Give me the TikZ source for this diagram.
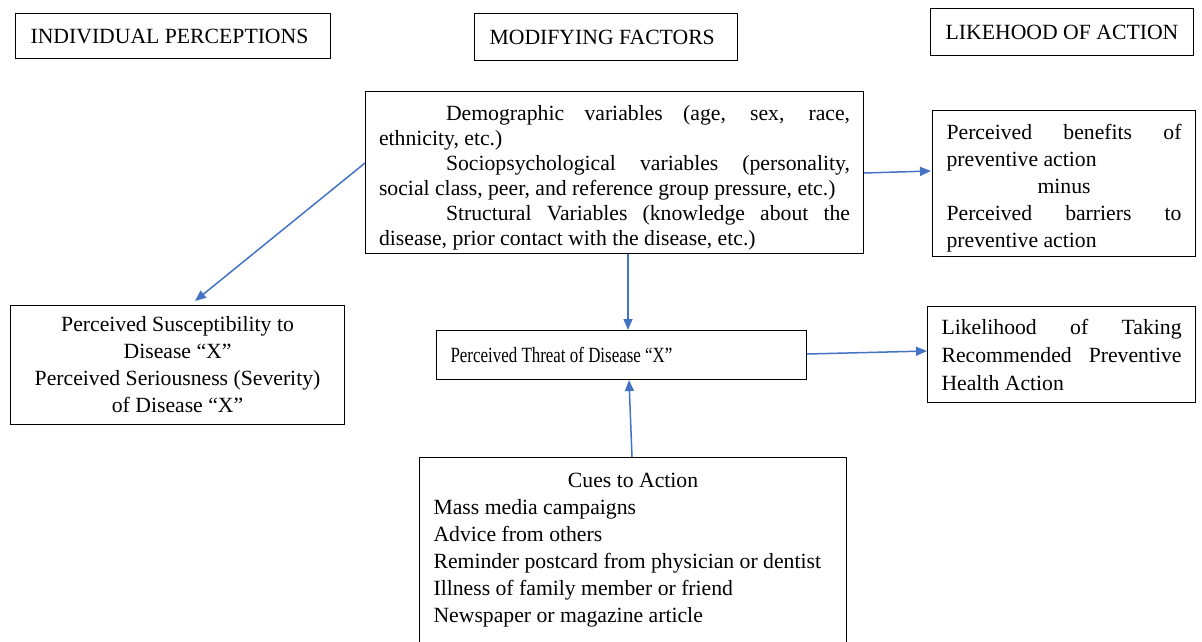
\documentclass[tikz,border=0pt]{standalone}
\usepackage{fontspec}
\usepackage{graphicx}
\setmainfont{Liberation Serif}
\usetikzlibrary{calc,arrows.meta}
\definecolor{arrowblue}{HTML}{4472C4}
\newcommand{\bodyfont}{\fontsize{21.7}{27}\selectfont}
\newcommand{\nohyph}{\hyphenpenalty=10000 \exhyphenpenalty=10000 \tolerance=10000 \emergencystretch=20pt}
\tikzset{
  box/.style={draw=black, line width=1.1pt, inner sep=0pt, anchor=north west, font=\bodyfont},
  conn/.style={draw=arrowblue, line width=1.5pt, -{Triangle[length=11pt,width=9pt]}},
}
\begin{document}
\begin{tikzpicture}[x=1pt,y=1pt]
\useasboundingbox (0,0) rectangle (1202,-641);
\clip (0,0) rectangle (1202,-641);

% column headers
\node[box, minimum width=315, minimum height=45] (ip) at (15,-13)
  {\parbox{285pt}{INDIVIDUAL PERCEPTIONS}};
\node[box, minimum width=263, minimum height=47] (mf) at (474,-13)
  {\parbox{233pt}{MODIFYING FACTORS}};
\node[box, minimum width=263, minimum height=47] (la) at (930,-8)
  {\parbox{237pt}{\centering LIKEHOOD OF ACTION}};

% modifying factors
\node[box, minimum width=498, minimum height=162] (demo) at (365,-91)
  {\parbox[c][134pt][t]{471pt}{\fontsize{21.7}{25}\selectfont\nohyph\parindent=67pt
   Demographic variables (age, sex, race,\linebreak ethnicity, etc.)\par
   Sociopsychological variables (personality,\linebreak social class, peer, and reference group pressure, etc.)\par
   Structural Variables (knowledge about the\linebreak disease, prior contact with the disease, etc.)\par}};

% perceived benefits
\node[box, minimum width=263, minimum height=146] (ben) at (932,-110)
  {\parbox[c][118pt][t]{235pt}{\nohyph\parindent=0pt
   Perceived benefits of\linebreak preventive action\par
   {\centering minus\par}
   Perceived barriers to\linebreak preventive action\par}};

% individual perceptions
\node[box, minimum width=334, minimum height=119] (sus) at (10,-305)
  {\parbox{310pt}{\centering Perceived Susceptibility to\\ Disease “X”\\ Perceived Seriousness (Severity)\\ of Disease “X”\par}};

% perceived threat
\node[box, minimum width=370, minimum height=49] (threat) at (436,-330)
  {\parbox{342pt}{\scalebox{0.78}[1]{Perceived Threat of Disease “X”}}};

% likelihood
\node[box, minimum width=268, minimum height=96] (lik) at (927,-306)
  {\parbox{240pt}{\fontsize{21.7}{28}\selectfont\nohyph\parindent=0pt
   Likelihood of Taking\linebreak Recommended Preventive\linebreak Health Action\par}};

% cues to action
\node[box, minimum width=427, minimum height=200] (cues) at (419,-457)
  {\parbox[c][168pt][t]{399pt}{\parindent=0pt
   {\centering Cues to Action\par}
   Mass media campaigns\par
   Advice from others\par
   Reminder postcard from physician or dentist\par
   Illness of family member or friend\par
   Newspaper or magazine article\par}};

% connectors
\draw[conn] ($(demo.north west)+(0,-72)$) -- ($(sus.north west)+(185,4)$);
\draw[conn] ($(demo.north east)+(0,-82)$) -- ($(ben.north west)+(-1,-61)$);
\draw[conn] ($(demo.south west)+(263,0)$) -- ($(threat.north west)+(192,0)$);
\draw[conn] ($(threat.north east)+(0,-24)$) -- ($(lik.north west)+(0,-45)$);
\draw[conn] ($(cues.north west)+(213,0)$) -- ($(threat.south west)+(193,0)$);
\end{tikzpicture}
\end{document}
